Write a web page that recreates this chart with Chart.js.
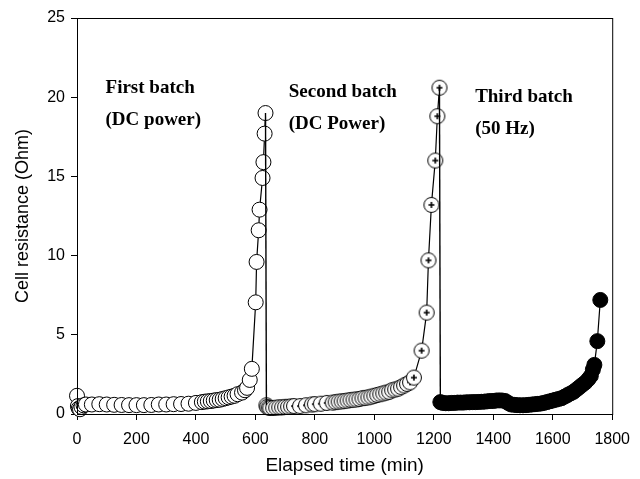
<!DOCTYPE html>
<html>
<head>
<meta charset="utf-8">
<script src="https://cdn.jsdelivr.net/npm/chart.js@4/dist/chart.umd.min.js"></script>
<style>
  html, body { margin: 0; padding: 0; background: #fff; }
</style>
</head>
<body>
<canvas id="resistanceChart" width="640" height="479"></canvas>
<script>
// First batch (DC power)
const firstTime = [0, 3, 6, 10, 15, 22, 30, 50, 75, 100, 125, 150, 175, 200, 225, 250, 275, 300, 325, 350, 375,
  400, 420, 430, 440, 450, 460, 470, 480, 490, 500, 510, 520, 530, 540, 555, 565, 572, 581, 588,
  601, 604, 611, 614, 624, 627, 631, 634];
const firstOhm = [1.15, 0.5, 0.35, 0.3, 0.45, 0.55, 0.6, 0.6, 0.62, 0.6, 0.58, 0.57, 0.56, 0.56, 0.56, 0.57, 0.6, 0.6, 0.62, 0.63, 0.65,
  0.7, 0.75, 0.78, 0.8, 0.82, 0.85, 0.88, 0.9, 0.95, 1.0, 1.05, 1.1, 1.15, 1.25, 1.35, 1.5, 1.65, 2.15, 2.85,
  7.05, 9.6, 11.6, 12.9, 14.9, 15.9, 17.7, 19.0];

// Second batch (DC power)
const secondTime = [637, 640, 645, 650, 660, 670, 680, 690, 700, 710, 720, 730, 750, 770, 790, 800, 820, 840, 860, 870,
  880, 890, 900, 910, 920, 930, 940, 950, 960, 970, 980, 990, 1000, 1010, 1020, 1030, 1040, 1050, 1060, 1070,
  1080, 1090, 1100, 1110, 1120, 1133, 1159, 1176, 1182, 1192, 1205, 1212, 1219];
const secondOhm = [0.55, 0.45, 0.4, 0.38, 0.38, 0.4, 0.42, 0.42, 0.45, 0.45, 0.48, 0.5, 0.5, 0.55, 0.6, 0.62, 0.65, 0.7, 0.72, 0.75,
  0.78, 0.8, 0.82, 0.85, 0.88, 0.9, 0.92, 0.95, 1.0, 1.02, 1.05, 1.1, 1.15, 1.2, 1.25, 1.3, 1.35, 1.4, 1.5, 1.55,
  1.6, 1.7, 1.8, 1.9, 2.0, 2.3, 4.0, 6.4, 9.7, 13.2, 16.0, 18.8, 20.6];

// Third batch (50 Hz)
const thirdTime = [1222, 1230, 1240, 1250, 1260, 1270, 1280, 1290, 1300, 1310, 1320, 1330, 1340, 1350, 1360, 1370, 1380, 1390,
  1400, 1410, 1420, 1430, 1440, 1450, 1460, 1470, 1480, 1490, 1500, 1510, 1520, 1530, 1540, 1550, 1560, 1570,
  1580, 1590, 1600, 1610, 1620, 1630, 1640, 1650, 1660, 1670, 1680, 1690, 1700, 1710, 1720, 1728, 1735, 1740, 1750, 1760];
const thirdOhm = [0.75, 0.7, 0.68, 0.68, 0.7, 0.7, 0.72, 0.72, 0.72, 0.74, 0.74, 0.75, 0.75, 0.76, 0.77, 0.78, 0.8, 0.82,
  0.82, 0.85, 0.86, 0.85, 0.82, 0.7, 0.6, 0.58, 0.56, 0.55, 0.55, 0.56, 0.58, 0.6, 0.62, 0.64, 0.66, 0.7,
  0.75, 0.8, 0.85, 0.9, 0.95, 1.0, 1.1, 1.2, 1.3, 1.4, 1.55, 1.7, 1.85, 2.0, 2.2, 2.4, 2.8, 3.1, 4.6, 7.2];

const xTicks = [0, 200, 400, 600, 800, 1000, 1200, 1400, 1600, 1800];
const yTicks = [0, 5, 10, 15, 20, 25];

const batchLabels = [
  { lines: ["First batch", "(DC power)"], x: 96, y: 20.6 },
  { lines: ["Second batch", "(DC Power)"], x: 712, y: 20.3 },
  { lines: ["Third batch", "(50 Hz)"], x: 1339, y: 20.0 }
];

function toPoints(xs, ys) {
  return xs.map((x, i) => ({ x: x, y: ys[i] }));
}

// open circle with a small plus inside, used for the second batch
function plusCircle(r) {
  const c = document.createElement("canvas");
  const s = Math.ceil(r * 2 + 3);
  c.width = c.height = s;
  const g = c.getContext("2d");
  const m = s / 2;
  g.beginPath();
  g.arc(m, m, r, 0, Math.PI * 2);
  g.fillStyle = "#fff";
  g.fill();
  g.lineWidth = 1;
  g.strokeStyle = "#000";
  g.stroke();
  g.beginPath();
  g.moveTo(m - 3, m); g.lineTo(m + 3, m);
  g.moveTo(m, m - 3); g.lineTo(m, m + 3);
  g.lineWidth = 1.6;
  g.stroke();
  return c;
}

const first = toPoints(firstTime, firstOhm);
const second = toPoints(secondTime, secondOhm);
const third = toPoints(thirdTime, thirdOhm);

const frame = {
  id: "frame",
  afterDatasetsDraw(chart) {
    const { ctx, chartArea: a, scales } = chart;
    ctx.save();
    ctx.strokeStyle = "#000";
    ctx.lineWidth = 1;
    ctx.strokeRect(a.left + 0.5, a.top + 0.5, a.right - a.left, a.bottom - a.top);
    ctx.fillStyle = "#000";
    ctx.font = "bold 19px 'Liberation Serif', 'Times New Roman', serif";
    ctx.textBaseline = "middle";
    batchLabels.forEach(l => {
      const px = scales.x.getPixelForValue(l.x);
      const py = scales.y.getPixelForValue(l.y);
      l.lines.forEach((t, i) => ctx.fillText(t, px, py + i * 32));
    });
    ctx.restore();
  }
};

const lineStyle = { borderColor: "#000", borderWidth: 1.2, pointBorderColor: "#000", pointBorderWidth: 1, pointRadius: 7.5, clip: false };
const tickFont = { family: "'Liberation Sans', Arial, sans-serif", size: 16 };

new Chart(document.getElementById("resistanceChart"), {
  type: "line",
  data: {
    datasets: [
      { data: [first[first.length - 1], second[0]], borderColor: "#000", borderWidth: 1.4, pointRadius: 0 },
      { data: [second[second.length - 1], third[0]], borderColor: "#000", borderWidth: 1.4, pointRadius: 0 },
      { label: "First batch", data: first, ...lineStyle, pointBackgroundColor: "#fff" },
      { label: "Second batch", data: second, ...lineStyle, pointStyle: plusCircle(7.5) },
      { label: "Third batch", data: third, ...lineStyle, pointBackgroundColor: "#000" }
    ]
  },
  options: {
    responsive: false,
    animation: false,
    events: [],
    layout: { padding: { top: 18, right: 18, left: 0, bottom: 0 } },
    plugins: { legend: { display: false }, tooltip: { enabled: false } },
    scales: {
      x: {
        type: "linear",
        min: 0,
        max: 1800,
        afterBuildTicks: s => { s.ticks = xTicks.map(v => ({ value: v })); },
        afterFit: s => { s.height = 65; },
        grid: { drawOnChartArea: false, tickLength: 6, color: "#000" },
        border: { color: "#000" },
        ticks: { color: "#000", padding: 10, font: tickFont, callback: v => String(v) },
        title: {
          display: true, text: "Elapsed time (min)", color: "#000",
          padding: { top: 0, bottom: 2 },
          font: { family: "'Liberation Sans', Arial, sans-serif", size: 19 }
        }
      },
      y: {
        min: 0,
        max: 25,
        afterBuildTicks: s => { s.ticks = yTicks.map(v => ({ value: v })); },
        afterFit: s => { s.width = 77; },
        grid: { drawOnChartArea: false, tickLength: 6, color: "#000" },
        border: { color: "#000" },
        ticks: { color: "#000", padding: 6, font: tickFont, callback: v => String(v) },
        title: {
          display: true, text: "Cell resistance (Ohm)", color: "#000",
          padding: { top: 12, bottom: 0 },
          font: { family: "'Liberation Sans', Arial, sans-serif", size: 18 }
        }
      }
    }
  },
  plugins: [frame]
});
</script>
</body>
</html>
